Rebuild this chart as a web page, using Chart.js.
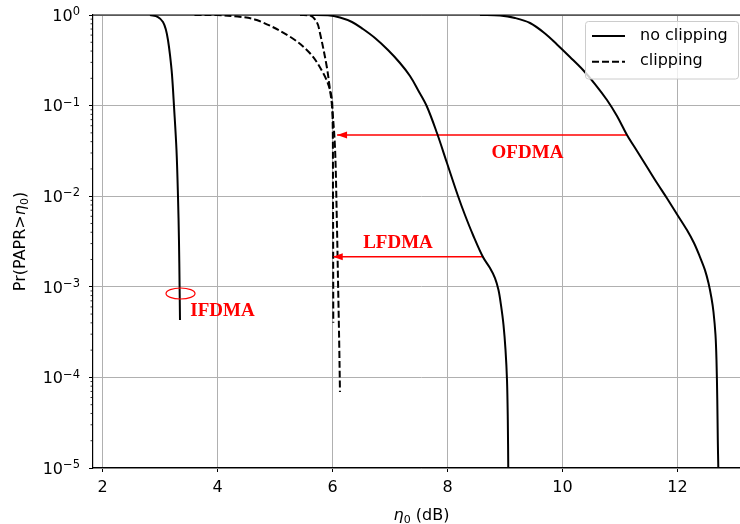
<!DOCTYPE html>
<html>
<head>
<meta charset="utf-8">
<script src="https://cdn.jsdelivr.net/npm/chart.js@4/dist/chart.umd.min.js"></script>
<style>
  html, body { margin: 0; padding: 0; background: #fff; overflow: hidden; }
  #wrap { width: 740px; height: 524px; overflow: hidden; }
</style>
</head>
<body>
<div id="wrap"><canvas id="c" width="750" height="524"></canvas></div>
<script>
// CCDF of PAPR: Pr(PAPR > eta0) versus eta0 in dB

// IFDMA, no clipping
const ifdmaEta  = [2.826, 2.965, 3.052, 3.104, 3.139, 3.174, 3.209, 3.243, 3.287, 3.313, 3.33, 3.341, 3.348];
const ifdmaProb = [1, 0.95, 0.837, 0.683, 0.53, 0.362, 0.218, 0.1, 0.0324, 0.01, 0.00329, 0.001, 4.3e-4];

// LFDMA, no clipping
const lfdmaEta  = [5.609, 5.922, 6.130, 6.339, 6.530, 6.739, 6.965, 7.174, 7.348, 7.487, 7.638, 7.817, 7.991, 8.183,
                   8.304, 8.444, 8.617, 8.739, 8.826, 8.887, 8.930, 8.974, 9.009, 9.035, 9.049, 9.057];
const lfdmaProb = [1, 0.9924, 0.9384, 0.8369, 0.7005, 0.5574, 0.4109, 0.2953, 0.2122, 0.1487, 0.099, 0.0498, 0.02325, 0.01005,
                   0.0062, 0.00373, 0.00213, 0.00161, 0.00125, 9.22e-4, 6.3e-4, 3.79e-4, 2.01e-4, 9.36e-5, 3.39e-5, 1e-5];

// OFDMA, no clipping
const ofdmaEta  = [8.565, 8.913, 9.174, 9.435, 9.696, 9.904, 10.130, 10.357, 10.565, 10.774, 10.948, 11.122, 11.296, 11.470,
                   11.644, 11.817, 11.991, 12.165, 12.287, 12.391, 12.478, 12.539, 12.591, 12.626, 12.661, 12.678, 12.692, 12.701, 12.710];
const ofdmaProb = [1, 0.9874, 0.9267, 0.8161, 0.625, 0.4725, 0.3439, 0.2471, 0.1731, 0.1153, 0.0768, 0.0474, 0.03155, 0.0210,
                   0.01398, 0.00948, 0.00633, 0.00423, 0.00304, 0.00213, 0.00153, 0.0011, 7.52e-4, 5.27e-4, 2.94e-4, 1.556e-4, 5.63e-5, 2.04e-5, 1e-5];

// OFDMA, clipping
const ofdmaClipEta  = [3.6, 3.991, 4.35, 4.682, 5.261, 5.609, 5.84, 5.957, 5.997, 6.009, 6.014];
const ofdmaClipProb = [1, 0.998, 0.96, 0.88, 0.576, 0.378, 0.227, 0.149, 0.1, 0.0091, 4e-4];

// LFDMA, clipping
const lfdmaClipEta  = [5.435, 5.609, 5.725, 5.783, 5.9, 5.957, 5.991, 6.043, 6.073, 6.096, 6.118, 6.13];
const lfdmaClipProb = [1, 0.99, 0.84, 0.63, 0.27, 0.149, 0.1, 0.035, 0.0065, 0.00119, 2.17e-4, 6.9e-5];

// Arrows showing the PAPR reduction from clipping
const arrowFromEta = [11.117, 8.623];
const arrowToEta   = [6.08, 6.005];
const arrowProb    = [0.0474, 0.00215];

// Scheme labels
const schemeNames = ['OFDMA', 'LFDMA', 'IFDMA'];
const schemeEta   = [9.391, 7.139, 4.087];
const schemeProb  = [0.0302, 0.00304, 5.4e-4];

// Marker ellipse on the IFDMA curve
const ringEta = 3.357;
const ringProb = 8.43e-4;

// Legend entries
const legendNames = ['no clipping', 'clipping'];

// Axis ticks
const xTicks = [2, 4, 6, 8, 10, 12];
const xTickLabels = ['2', '4', '6', '8', '10', '12'];
const yTicks = [1e-5, 1e-4, 1e-3, 1e-2, 1e-1, 1];
const yTickBase = '10';
const yTickExps = ['\u22125', '\u22124', '\u22123', '\u22122', '\u22121', '0'];

const pts = (xs, ys) => xs.map((v, i) => ({ x: v, y: ys[i] }));

Chart.defaults.font.family = '"DejaVu Sans", sans-serif';
Chart.defaults.font.size = 16;
Chart.defaults.color = '#000';

const curve = (label, xs, ys, dashed) => ({
  label,
  data: pts(xs, ys),
  borderColor: '#000',
  borderWidth: 2,
  borderDash: dashed ? [7, 3] : [],
  pointRadius: 0,
  fill: false,
  tension: 0.35
});

const arrowSets = arrowFromEta.map((x0, i) => ({
  label: 'arrow' + i,
  data: [{ x: x0, y: arrowProb[i] }, { x: arrowToEta[i], y: arrowProb[i] }],
  borderColor: '#ff0000',
  borderWidth: 1.6,
  pointRadius: 0,
  tension: 0,
  fill: false
}));

function drawMath(ctx, parts, x, y, rotate) {
  // parts: [text, font, dy]
  ctx.save();
  ctx.translate(x, y);
  if (rotate) ctx.rotate(-Math.PI / 2);
  let total = 0;
  parts.forEach(p => { ctx.font = p[1]; total += ctx.measureText(p[0]).width; });
  let cx = -total / 2;
  ctx.textBaseline = 'alphabetic';
  ctx.textAlign = 'left';
  ctx.fillStyle = '#000';
  parts.forEach(p => {
    ctx.font = p[1];
    ctx.fillText(p[0], cx, p[2] || 0);
    cx += ctx.measureText(p[0]).width;
  });
  ctx.restore();
}

const decorations = {
  id: 'decorations',
  afterDraw(chart) {
    const { ctx, chartArea: a } = chart;
    const xs = chart.scales.x, ys = chart.scales.y;
    ctx.save();

    // minor ticks on the log axis
    ctx.strokeStyle = '#000';
    ctx.lineWidth = 0.8;
    for (let e = -5; e < 0; e++) {
      for (let m = 2; m <= 9; m++) {
        const py = ys.getPixelForValue(m * Math.pow(10, e));
        ctx.beginPath();
        ctx.moveTo(a.left - 2.5, py);
        ctx.lineTo(a.left, py);
        ctx.stroke();
      }
    }

    // y tick labels: base with raised exponent
    ctx.fillStyle = '#000';
    ctx.textBaseline = 'alphabetic';
    ctx.textAlign = 'left';
    const baseFont = '16px "DejaVu Sans", sans-serif';
    const expFont = '11.5px "DejaVu Sans", sans-serif';
    yTicks.forEach((v, i) => {
      const py = ys.getPixelForValue(v);
      ctx.font = expFont;
      const ew = ctx.measureText(yTickExps[i]).width;
      ctx.font = baseFont;
      const bw = ctx.measureText(yTickBase).width;
      const right = a.left - 13;
      ctx.fillText(yTickBase, right - ew - bw, py + 5.8);
      ctx.font = expFont;
      ctx.fillText(yTickExps[i], right - ew, py + 0.1);
    });

    // top spine
    ctx.lineWidth = 1.2;
    ctx.beginPath();
    ctx.moveTo(a.left, a.top);
    ctx.lineTo(a.right, a.top);
    ctx.stroke();

    // arrow heads
    ctx.fillStyle = '#ff0000';
    arrowToEta.forEach((xe, i) => {
      const px = xs.getPixelForValue(xe), py = ys.getPixelForValue(arrowProb[i]);
      ctx.beginPath();
      ctx.moveTo(px, py);
      ctx.lineTo(px + 10, py - 3.5);
      ctx.lineTo(px + 10, py + 3.5);
      ctx.closePath();
      ctx.fill();
    });

    // scheme labels
    ctx.font = 'bold 19px "Liberation Serif", serif';
    ctx.textAlign = 'center';
    ctx.textBaseline = 'middle';
    schemeNames.forEach((n, i) => {
      ctx.fillText(n, xs.getPixelForValue(schemeEta[i]), ys.getPixelForValue(schemeProb[i]));
    });

    // ellipse marker
    ctx.strokeStyle = '#ff0000';
    ctx.lineWidth = 1.2;
    ctx.beginPath();
    ctx.ellipse(xs.getPixelForValue(ringEta), ys.getPixelForValue(ringProb), 14.5, 5.5, 0, 0, Math.PI * 2);
    ctx.stroke();

    // legend
    const lx = a.right - 164.5, ly = a.top + 6.5, lw = 153, lh = 57.5;
    ctx.beginPath();
    ctx.roundRect(lx, ly, lw, lh, 3);
    ctx.fillStyle = 'rgba(255,255,255,0.8)';
    ctx.fill();
    ctx.strokeStyle = '#cccccc';
    ctx.lineWidth = 1;
    ctx.stroke();
    ctx.strokeStyle = '#000';
    ctx.lineWidth = 2;
    ctx.font = '16px "DejaVu Sans", sans-serif';
    ctx.textAlign = 'left';
    ctx.textBaseline = 'middle';
    ctx.fillStyle = '#000';
    legendNames.forEach((n, i) => {
      const yy = ly + 14.5 + i * 25.7;
      ctx.setLineDash(i === 0 ? [] : [7, 3]);
      ctx.beginPath();
      ctx.moveTo(lx + 6.5, yy);
      ctx.lineTo(lx + 39.5, yy);
      ctx.stroke();
      ctx.fillText(n, lx + 54.5, yy - 0.5);
    });
    ctx.setLineDash([]);
    ctx.restore();

    // axis titles
    const reg = '16px "DejaVu Sans", sans-serif';
    const ita = 'italic 16px "DejaVu Sans", sans-serif';
    const sub = '11px "DejaVu Sans", sans-serif';
    drawMath(ctx, [['\u03B7', ita, 0], ['0', sub, 3], [' (dB)', reg, 0]], (a.left + a.right) / 2, 519.5, false);
    drawMath(ctx, [['Pr(PAPR>', reg, 0], ['\u03B7', ita, 0], ['0', sub, 3], [')', reg, 0]], 25, (a.top + a.bottom) / 2, true);
  }
};

new Chart(document.getElementById('c'), {
  type: 'line',
  data: {
    datasets: [
      curve('no clipping', ifdmaEta, ifdmaProb, false),
      curve('no clipping', lfdmaEta, lfdmaProb, false),
      curve('no clipping', ofdmaEta, ofdmaProb, false),
      curve('clipping', ofdmaClipEta, ofdmaClipProb, true),
      curve('clipping', lfdmaClipEta, lfdmaClipProb, true),
      ...arrowSets
    ]
  },
  options: {
    responsive: false,
    animation: false,
    devicePixelRatio: 1,
    layout: { padding: { left: 0, top: 15, right: 0, bottom: 0 } },
    plugins: { legend: { display: false }, tooltip: { enabled: false } },
    scales: {
      x: {
        type: 'linear',
        min: 1.835,
        max: 13.261,
        afterBuildTicks: s => { s.ticks = xTicks.map(v => ({ value: v })); },
        afterFit: s => { s.height = 56; },
        ticks: { callback: (v, i) => xTickLabels[i], padding: 6, maxRotation: 0, autoSkip: false, font: { size: 16 } },
        grid: { color: '#b0b0b0', lineWidth: 1, tickColor: '#000', tickLength: 4, tickWidth: 1 },
        border: { display: true, color: '#000', width: 1.2 },
        title: { display: false }
      },
      y: {
        type: 'logarithmic',
        min: 1e-5,
        max: 1,
        afterBuildTicks: s => { s.ticks = yTicks.map(v => ({ value: v, major: true })); },
        afterFit: s => { s.width = 93; },
        ticks: { display: false, padding: 0 },
        grid: { color: '#b0b0b0', lineWidth: 1, tickColor: '#000', tickLength: 4, tickWidth: 1 },
        border: { display: true, color: '#000', width: 1.2 },
        title: { display: false }
      }
    }
  },
  plugins: [decorations]
});
</script>
</body>
</html>
